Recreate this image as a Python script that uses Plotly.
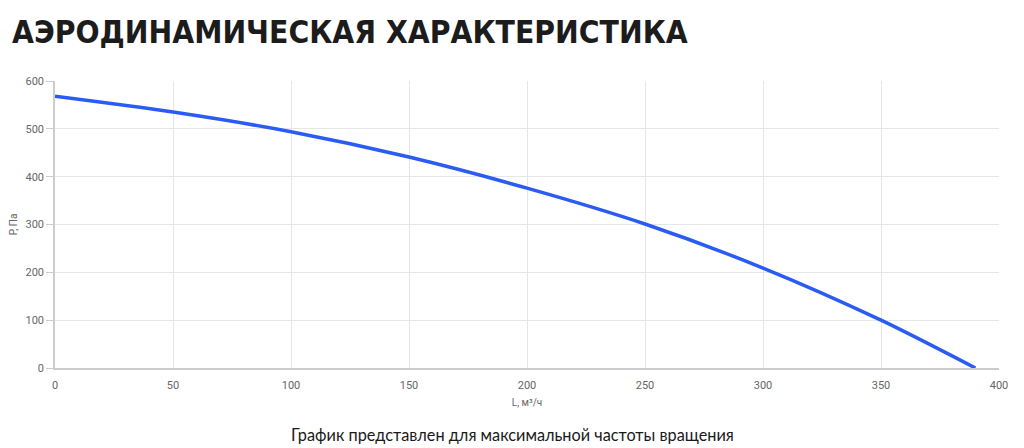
import plotly.graph_objects as go

flow = [0, 50, 100, 150, 200, 250, 300, 350, 390]
pressure = [568, 535, 494, 441, 376, 301, 209, 100, 0]

x_ticks = [0, 50, 100, 150, 200, 250, 300, 350, 400]
y_ticks = [0, 100, 200, 300, 400, 500, 600]

title_text = "АЭРОДИНАМИЧЕСКАЯ ХАРАКТЕРИСТИКА"
note_text = "График представлен для максимальной частоты вращения"
x_title = "L, м³/ч"
y_title = "P, Па"

PW = 944.0  # plot width in px (for paper-coordinate offsets)

fig = go.Figure()
fig.add_trace(go.Scatter(
    x=flow, y=pressure, mode="lines",
    line=dict(color="#2a5bf3", width=3.5, shape="spline", smoothing=0.8),
    hoverinfo="skip", showlegend=False,
))

fig.update_layout(
    width=1016, height=440,
    margin=dict(l=47, r=25, t=73, b=80, autoexpand=False),
    paper_bgcolor="white", plot_bgcolor="white",
    font=dict(family="Roboto, Arial, sans-serif", color="#666"),
    xaxis=dict(
        range=[0, 400], tickvals=x_ticks, showgrid=True, gridcolor="#e6e6e6",
        showline=True, linecolor="#cccccc", linewidth=1.5, zeroline=False,
        ticks="", tickfont=dict(size=11, color="#666"), ticklabelstandoff=6,
        title=dict(text=x_title, font=dict(size=10, color="#666"), standoff=8),
    ),
    yaxis=dict(
        range=[0, 600], tickvals=y_ticks, showgrid=True, gridcolor="#e6e6e6",
        showline=True, linecolor="#cccccc", linewidth=1.5, zeroline=False,
        ticks="outside", ticklen=7, tickcolor="#cccccc",
        tickfont=dict(size=11, color="#666"),
        title=dict(text=y_title, font=dict(size=10, color="#666"), standoff=6),
    ),
)

fig.add_annotation(
    text="<b>" + title_text + "</b>", xref="paper", yref="paper",
    x=-45 / PW, y=1.0, yshift=49,
    xanchor="left", yanchor="middle", showarrow=False,
    font=dict(family="DejaVu Sans Condensed, Liberation Sans Narrow, sans-serif", size=31.5, color="#1c1c1c"),
)
fig.add_annotation(
    text=note_text, xref="paper", yref="paper", x=0.5, y=0, yshift=-66,
    xanchor="center", yanchor="middle", showarrow=False,
    font=dict(family="Lato, Noto Sans, sans-serif", size=16.3, color="#1a1a1a"),
    xshift=-15,
)

fig.write_html("out.html")
